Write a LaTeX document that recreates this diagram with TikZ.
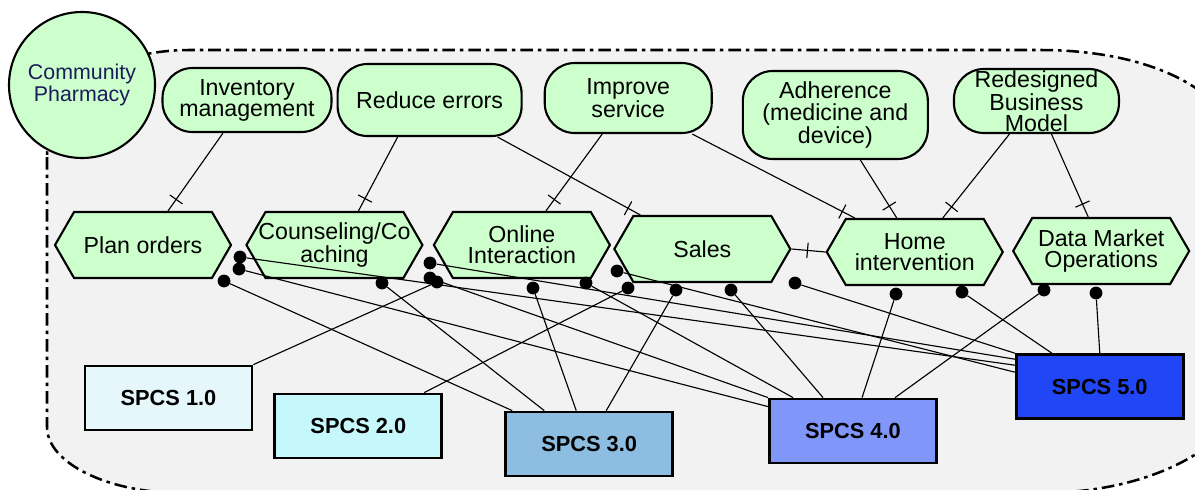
\documentclass[tikz,border=0pt]{standalone}
\usepackage{fontspec}
\setmainfont{Liberation Sans}
\usetikzlibrary{calc, positioning, shapes.misc, shapes.symbols, decorations.markings}
\definecolor{goalgreen}{HTML}{CCFFCC}
\definecolor{zonegray}{HTML}{F2F2F2}
\definecolor{pharmtext}{HTML}{1C1C5A}
\definecolor{spcsa}{HTML}{E6F7FB}
\definecolor{spcsb}{HTML}{C6F7FA}
\definecolor{spcsc}{HTML}{8DBEE2}
\definecolor{spcsd}{HTML}{8096F8}
\definecolor{spcse}{HTML}{2146F5}

\begin{document}
\begin{tikzpicture}[
        x=0.25mm, y=-0.25mm,
        font=\fontsize{16.5}{15}\selectfont,
        zone/.style={draw, fill=zonegray, line width=1.8pt, dash pattern=on 9pt off 3.5pt on 2.5pt off 3.5pt},
        circ/.style={draw, circle, line width=1.5pt, fill=goalgreen, minimum size=36.5mm, inner sep=0pt, align=center, text=pharmtext, font=\fontsize{15.2}{15}\selectfont},
        goal/.style={draw, rounded corners=7.5mm, line width=1.5pt, fill=goalgreen, inner sep=1pt, align=center},
        func/.style={draw, signal, signal to=west and east, signal pointer angle=120, line width=1.5pt, fill=goalgreen, minimum width=44mm, minimum height=16.5mm, inner xsep=0pt, inner ysep=1pt, align=center},
        spcs/.style={draw, line width=2pt, minimum width=41.75mm, minimum height=16mm, font=\fontsize{15.5}{15}\selectfont\bfseries},
        blob/.style={circle, fill=black, minimum size=3.2mm, inner sep=0pt},
        link/.style={line width=0.8pt},
        tickline/.style={link, postaction={decorate}, decoration={markings, mark=at position #1 with {\draw[line width=0.8pt] (0pt,-5.5pt) -- (0pt,5.5pt);}}},
        tickline/.default=-3.5mm
    ]
        \useasboundingbox (0,0) rectangle (1195,489);
        \path[zone] (47,157) -- (47,427) .. controls (47,463) and (108,493) .. (182,493) -- (1040,493) .. controls (1160,493) and (1235,440) .. (1240,400) -- (1240,150) .. controls (1230,90) and (1150,50) .. (1040,50) -- (190,50) .. controls (120,50) and (47,80) .. (47,157) -- cycle;

        \node[circ] (pharm) at (82,85) {Community\\Pharmacy};
        \node[goal, minimum width=42.25mm, minimum height=16mm] (inv) at (247,100) {Inventory\\management};
        \node[goal, minimum width=46mm, minimum height=18mm, right=1mm of inv] (red) {Reduce errors};
        \node[goal, minimum width=41.75mm, minimum height=17.5mm, right=5.25mm of red, yshift=0.5mm] (imp) {Improve\\service};
        \node[goal, minimum width=46.25mm, minimum height=22mm, right=7.25mm of imp, yshift=-4.25mm] (adh) {Adherence\\(medicine and\\device)};
        \node[goal, minimum width=41.25mm, minimum height=16mm, inner sep=0pt, right=6mm of adh, yshift=3.5mm] (redes) {Redesigned\\Business\\Model};

        \node[func] (plan) at (143,245) {Plan orders};
        \node[func, inner xsep=-6mm, right=3.25mm of plan] (couns) {Counseling/Co\\aching};
        \node[func, right=2.25mm of couns] (online) {Online\\Interaction};
        \node[func, right=0.5mm of online, yshift=-1mm] (sales) {Sales};
        \node[func, right=8.5mm of sales, yshift=-0.75mm] (home) {Home\\intervention};
        \node[func, right=2mm of home, yshift=0.25mm] (data) {Data Market\\Operations};

        \node[spcs, fill=spcsa] (s1) at (168.5,398) {SPCS 1.0};
        \node[spcs, fill=spcsb, right=5mm of s1, yshift=-7mm] (s2) {SPCS 2.0};
        \node[spcs, fill=spcsc, right=15.25mm of s2, yshift=-4.5mm] (s3) {SPCS 3.0};
        \node[spcs, fill=spcsd, right=23.5mm of s3, yshift=3.25mm] (s4) {SPCS 4.0};
        \node[spcs, fill=spcse, right=19.25mm of s4, yshift=11.1mm] (s5) {SPCS 5.0};

        \node[blob] (plan1) at (240,257) {};
        \node[blob] (plan2) at (239,269) {};
        \node[blob] (plan3) at (224,281) {};
        \node[blob] (couns1) at (382,283) {};
        \node[blob] (online1) at (430,263) {};
        \node[blob] (online2) at (430,278) {};
        \node[blob] (online3) at (437,282) {};
        \node[blob] (online4) at (533,288) {};
        \node[blob] (online5) at (586,283) {};
        \node[blob] (sales1) at (617,271) {};
        \node[blob] (sales2) at (628,288) {};
        \node[blob] (sales3) at (676,290) {};
        \node[blob] (sales4) at (731,290) {};
        \node[blob] (home1) at (795,283) {};
        \node[blob] (home2) at (896,294) {};
        \node[blob] (home3) at (962,292) {};
        \node[blob] (data1) at (1044,290) {};
        \node[blob] (data2) at (1096,293) {};

        \draw[tickline] ([xshift=-6mm]inv.south) -- ([xshift=6.25mm]plan.north);
        \draw[tickline] ([xshift=-8mm]red.south) -- ([xshift=6mm]couns.north);
        \draw[tickline] ([xshift=17mm]red.south) -- ([xshift=-15.5mm]sales.north);
        \draw[tickline] ([xshift=-6.5mm]imp.south) -- ([xshift=6mm]online.north);
        \draw[tickline] ([xshift=16mm]imp.south) -- ([xshift=-15mm]home.north);
        \draw[tickline] ([xshift=6.25mm]adh.south) -- ([xshift=-4.5mm]home.north);
        \draw[tickline] ([xshift=-6.75mm]redes.south) -- ([xshift=7mm]home.north);
        \draw[tickline] ([xshift=3.75mm]redes.south) -- ([xshift=-3.25mm]data.north);
        \draw[tickline=4mm] (sales.east) -- (home.west);

        \draw[link] (plan1) -- ([yshift=-3mm]s5.north west);
        \draw[link] (plan2) -- ([yshift=-2.25mm]s4.north west);
        \draw[link] (plan3) -- ([xshift=2mm]s3.north west);
        \draw[link] (couns1) -- ([xshift=10mm]s3.north west);
        \draw[link] (online1) -- ([yshift=-1.5mm]s5.north west);
        \draw[link] (online2) -- (s4.north west);
        \draw[link] (online3) -- (s1.north east);
        \draw[link] (online4) -- ([xshift=18mm]s3.north west);
        \draw[link] (online5) -- ([xshift=6.25mm]s4.north west);
        \draw[link] (sales1) -- ([yshift=-4.75mm]s5.north west);
        \draw[link] (sales2) -- ([xshift=-4.75mm]s2.north east);
        \draw[link] (sales3) -- ([xshift=25.5mm]s3.north west);
        \draw[link] (sales4) -- ([xshift=13.75mm]s4.north west);
        \draw[link] (home1) -- (s5.north west);
        \draw[link] (home2) -- ([xshift=23.5mm]s4.north west);
        \draw[link] (home3) -- ([xshift=9.25mm]s5.north west);
        \draw[link] (data1) -- ([xshift=31.75mm]s4.north west);
        \draw[link] (data2) -- (s5.north);
    \end{tikzpicture}
\end{document}
